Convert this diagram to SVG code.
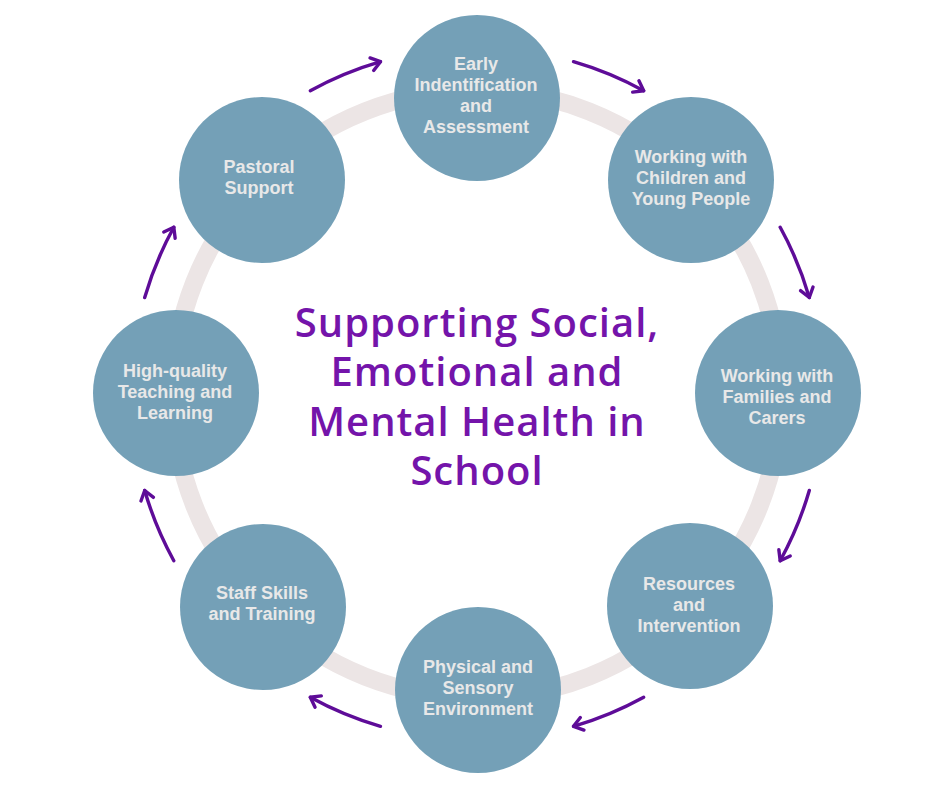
<svg xmlns="http://www.w3.org/2000/svg" width="940" height="788" viewBox="0 0 940 788">
  <defs>
    <marker id="arrow" markerUnits="userSpaceOnUse" markerWidth="24" markerHeight="24" viewBox="-12 -12 24 24" refX="0" refY="0" orient="auto">
      <path d="M-9,-6.5 L0,0 L-9,6.5" fill="none" stroke="#5e0c98" stroke-width="3.4" stroke-linecap="round" stroke-linejoin="round"/>
    </marker>
  </defs>
  <style>
    .ring { fill: none; stroke: #ece5e5; stroke-width: 18; }
    .node circle { fill: #74a0b7; }
    .node text { font-family: "Liberation Sans", Arial, sans-serif; font-weight: bold; font-size: 18px; fill: #e8e8e8; text-anchor: middle; }
    .conn path { fill: none; stroke: #5e0c98; stroke-width: 3.4; stroke-linecap: round; marker-end: url(#arrow); }
    .title { font-family: "Open Sans", "Noto Sans", sans-serif; font-weight: 600; font-size: 40px; letter-spacing: 1px; fill: #7414aa; text-anchor: middle; font-variant-ligatures: none; }
  </style>
  <rect width="940" height="788" fill="#ffffff"/>
  <circle class="ring" cx="477" cy="394" r="304"/>

  <g id="connectors" class="conn">
    <path d="M310.3,90.8 A346,346 0 0 1 380.5,61.7"/>
    <path d="M573.5,61.7 A346,346 0 0 1 643.7,90.8"/>
    <path d="M780.2,227.3 A346,346 0 0 1 809.3,297.5"/>
    <path d="M809.3,490.5 A346,346 0 0 1 780.2,560.7"/>
    <path d="M643.7,697.2 A346,346 0 0 1 573.5,726.3"/>
    <path d="M380.5,726.3 A346,346 0 0 1 310.3,697.2"/>
    <path d="M173.8,560.7 A346,346 0 0 1 144.7,490.5"/>
    <path d="M144.7,297.5 A346,346 0 0 1 173.8,227.3"/>
  </g>

  <g id="node-early" class="node">
    <circle cx="477" cy="98" r="83"/>
    <text x="476" y="70">Early</text>
    <text x="476" y="91">Indentification</text>
    <text x="476" y="112">and</text>
    <text x="476" y="133">Assessment</text>
  </g>
  <g id="node-children" class="node">
    <circle cx="691" cy="180" r="83"/>
    <text x="691" y="163">Working with</text>
    <text x="691" y="184">Children and</text>
    <text x="691" y="205">Young People</text>
  </g>
  <g id="node-families" class="node">
    <circle cx="778" cy="393" r="83"/>
    <text x="777" y="382">Working with</text>
    <text x="777" y="403">Families and</text>
    <text x="777" y="424">Carers</text>
  </g>
  <g id="node-resources" class="node">
    <circle cx="690" cy="606" r="83"/>
    <text x="689" y="590">Resources</text>
    <text x="689" y="611">and</text>
    <text x="689" y="632">Intervention</text>
  </g>
  <g id="node-physical" class="node">
    <circle cx="478" cy="690" r="83"/>
    <text x="478" y="673">Physical and</text>
    <text x="478" y="694">Sensory</text>
    <text x="478" y="715">Environment</text>
  </g>
  <g id="node-staff" class="node">
    <circle cx="263" cy="607" r="83"/>
    <text x="262" y="599">Staff Skills</text>
    <text x="262" y="620">and Training</text>
  </g>
  <g id="node-teaching" class="node">
    <circle cx="176" cy="393" r="83"/>
    <text x="175" y="377">High-quality</text>
    <text x="175" y="398">Teaching and</text>
    <text x="175" y="419">Learning</text>
  </g>
  <g id="node-pastoral" class="node">
    <circle cx="262" cy="180" r="83"/>
    <text x="259" y="173">Pastoral</text>
    <text x="259" y="194">Support</text>
  </g>

  <g id="title">
    <text class="title" x="477" y="337">Supporting Social,</text>
    <text class="title" x="477" y="386">Emotional and</text>
    <text class="title" x="477" y="436">Mental Health in</text>
    <text class="title" x="477" y="485">School</text>
  </g>
</svg>
